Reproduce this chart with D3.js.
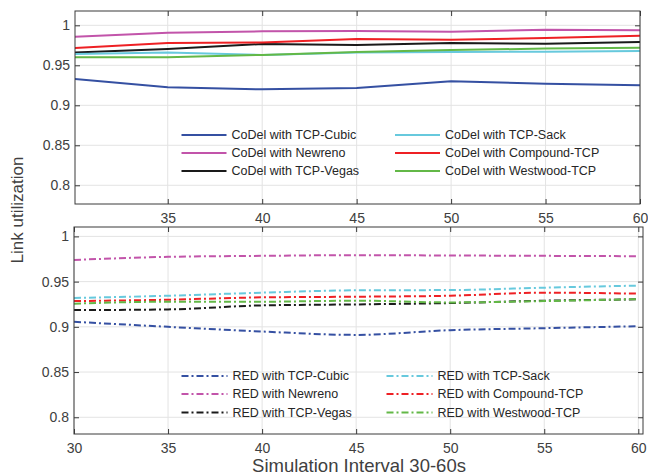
<!DOCTYPE html>
<html><head><meta charset="utf-8">
<script src="https://cdn.jsdelivr.net/npm/d3@7"></script>
<style>
html,body{margin:0;padding:0;background:#fff;}
svg{display:block;font-family:"Liberation Sans",Arial,Helvetica,sans-serif;}
</style></head>
<body><svg id="c" width="648" height="475"></svg>
<script>
// ---- data ----
const xValues = [30, 35, 40, 45, 50, 55, 60];
const xTicksTop = [35, 40, 45, 50, 55, 60];
const xTicksBottom = [30, 35, 40, 45, 50, 55, 60];
const yTicks = [0.8, 0.85, 0.9, 0.95, 1];
const yTickLabels = ["0.8", "0.85", "0.9", "0.95", "1"];

const codelNames = ["CoDel with TCP-Cubic", "CoDel with Newreno", "CoDel with TCP-Vegas",
                    "CoDel with TCP-Sack", "CoDel with Compound-TCP", "CoDel with Westwood-TCP"];
const codelCubic    = [0.933, 0.9225, 0.920, 0.9215, 0.930, 0.927, 0.925];
const codelNewreno  = [0.9857, 0.9908, 0.9925, 0.993, 0.992, 0.9945, 0.9938];
const codelVegas    = [0.966, 0.9704, 0.9766, 0.9754, 0.978, 0.977, 0.979];
const codelSack     = [0.964, 0.966, 0.963, 0.966, 0.9667, 0.967, 0.968];
const codelCompound = [0.9716, 0.978, 0.9785, 0.983, 0.982, 0.984, 0.987];
const codelWestwood = [0.960, 0.960, 0.963, 0.9667, 0.969, 0.971, 0.972];

const redNames = ["RED with TCP-Cubic", "RED with Newreno", "RED with TCP-Vegas",
                  "RED with TCP-Sack", "RED with Compound-TCP", "RED with Westwood-TCP"];
const redCubic    = [0.9056, 0.900, 0.8948, 0.8911, 0.8963, 0.8985, 0.9007];
const redNewreno  = [0.974, 0.9774, 0.9785, 0.9793, 0.9789, 0.9785, 0.9781];
const redVegas    = [0.9185, 0.9193, 0.9237, 0.9248, 0.9263, 0.9289, 0.9304];
const redSack     = [0.9319, 0.9344, 0.9378, 0.9404, 0.9407, 0.9433, 0.9456];
const redCompound = [0.9285, 0.930, 0.9326, 0.9333, 0.9344, 0.9378, 0.9367];
const redWestwood = [0.9256, 0.9278, 0.9278, 0.9289, 0.927, 0.9285, 0.9307];

const seriesColors = ["#3550a2", "#c254aa", "#1a1a1a", "#67c9dd", "#ee2024", "#63b847"];

// ---- drawing ----
const svg = d3.select("#c");
svg.append("rect").attr("width", 648).attr("height", 475).attr("fill", "#fff");
const axisColor = "#3a3a3a", gridColor = "#e3e3e3", textColor = "#404040";

function panel(cfg) {
  const x = d3.scaleLinear().domain(cfg.xDomain).range([cfg.left, cfg.right]);
  const y = d3.scaleLinear().domain(cfg.yDomain).range([cfg.bottom, cfg.top]);
  const g = svg.append("g");
  const clipId = "clip" + cfg.id;
  svg.append("clipPath").attr("id", clipId).append("rect")
    .attr("x", cfg.left).attr("y", cfg.top)
    .attr("width", cfg.right - cfg.left).attr("height", cfg.bottom - cfg.top);

  // grid
  g.append("g").selectAll("line").data(cfg.xGrid).join("line")
    .attr("x1", d => x(d)).attr("x2", d => x(d)).attr("y1", cfg.top).attr("y2", cfg.bottom)
    .attr("stroke", gridColor).attr("stroke-width", 1);
  g.append("g").selectAll("line").data(yTicks).join("line")
    .attr("x1", cfg.left).attr("x2", cfg.right).attr("y1", d => y(d)).attr("y2", d => y(d))
    .attr("stroke", gridColor).attr("stroke-width", 1);

  // lines
  const line = d3.line().x((d, i) => x(xValues[i])).y(d => y(d)).curve(cfg.curve);
  const lg = g.append("g").attr("clip-path", `url(#${clipId})`);
  cfg.series.forEach((s, i) => {
    lg.append("path").attr("d", line(s)).attr("fill", "none")
      .attr("stroke", seriesColors[i]).attr("stroke-width", 2)
      .attr("stroke-dasharray", cfg.dash).attr("stroke-linejoin", "round");
  });

  // axes (ticks inward on all sides)
  const tl = 5;
  const axL = d3.axisLeft(y).tickValues(yTicks).tickSize(-tl).tickPadding(5).tickFormat((d, i) => yTickLabels[i]);
  const axR = d3.axisRight(y).tickValues(yTicks).tickSize(-tl).tickFormat("");
  const axB = d3.axisBottom(x).tickValues(cfg.xTicks).tickSize(-tl).tickPadding(9).tickFormat(d3.format("d"));
  const axT = d3.axisTop(x).tickValues(cfg.xGrid).tickSize(-tl).tickFormat("");
  const gl = g.append("g").attr("transform", `translate(${cfg.left},0)`).call(axL);
  const gr = g.append("g").attr("transform", `translate(${cfg.right},0)`).call(axR);
  const gb = g.append("g").attr("transform", `translate(0,${cfg.bottom})`).call(axB);
  const gt = g.append("g").attr("transform", `translate(0,${cfg.top})`).call(axT);
  [gl, gr, gb, gt].forEach(a => {
    a.select(".domain").remove();
    a.selectAll(".tick line").attr("stroke", axisColor);
    a.selectAll("text").attr("fill", textColor).attr("font-size", 14)
      .attr("font-family", '"Liberation Sans",Arial,sans-serif');
  });
  g.append("rect").attr("x", cfg.left).attr("y", cfg.top)
    .attr("width", cfg.right - cfg.left).attr("height", cfg.bottom - cfg.top)
    .attr("fill", "none").attr("stroke", axisColor).attr("stroke-width", 1);

  // legend
  const leg = g.append("g");
  cfg.names.forEach((n, i) => {
    const col = Math.floor(i / 3), row = i % 3;
    const lx = cfg.legX[col], ly = cfg.legY[row];
    leg.append("line").attr("x1", lx).attr("x2", lx + cfg.legLen).attr("y1", ly).attr("y2", ly)
      .attr("stroke", seriesColors[i]).attr("stroke-width", 2).attr("stroke-dasharray", cfg.dash);
    leg.append("text").attr("x", lx + cfg.legLen + 5).attr("y", ly).attr("dy", "0.35em")
      .attr("font-size", 12.5).attr("fill", "#262626").text(n);
  });
}

panel({
  id: "top", left: 75, right: 640, top: 11, bottom: 204,
  xDomain: [30.09, 60], yDomain: [0.7766, 1.0179],
  xTicks: xTicksTop, xGrid: xTicksTop,
  series: [codelCubic, codelNewreno, codelVegas, codelSack, codelCompound, codelWestwood],
  names: codelNames, dash: null, curve: d3.curveLinear,
  legX: [181.5, 395], legY: [135, 153, 171], legLen: 45
});

panel({
  id: "bot", left: 74, right: 643, top: 227, bottom: 434,
  xDomain: [30, 60.25], yDomain: [0.7815, 1.0104],
  xTicks: xTicksBottom, xGrid: xTicksBottom,
  series: [redCubic, redNewreno, redVegas, redSack, redCompound, redWestwood],
  names: redNames, dash: "7,3,2,3", curve: d3.curveMonotoneX,
  legX: [181.5, 386.5], legY: [376, 394, 412.5], legLen: 46
});

// axis titles
svg.append("text").attr("x", 359).attr("y", 472).attr("text-anchor", "middle")
  .attr("font-size", 18.5).attr("fill", textColor).text("Simulation Interval 30-60s");
svg.append("text").attr("transform", "translate(23,210) rotate(-90)").attr("text-anchor", "middle")
  .attr("font-size", 17).attr("fill", textColor).text("Link utilization");
</script></body></html>
